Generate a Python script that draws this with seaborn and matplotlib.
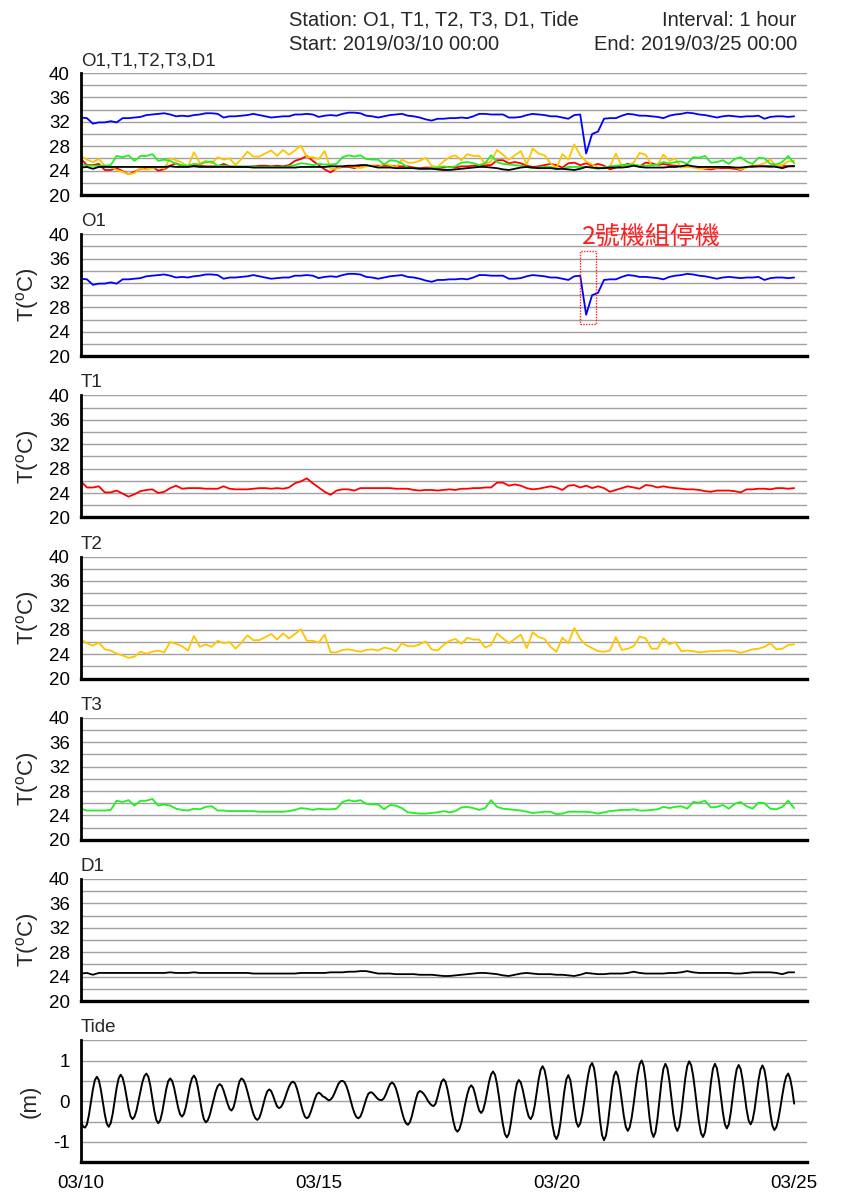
import numpy as np
import pandas as pd
import matplotlib
matplotlib.use("Agg")
import matplotlib.pyplot as plt
import seaborn as sns
from matplotlib.ticker import MultipleLocator, FixedLocator, NullFormatter, FixedFormatter
from matplotlib.patches import Rectangle

# ---------------- data (3-hourly temperatures, hourly tide) ----------------
o1 = [32.7, 32.6, 31.7, 31.9, 31.9, 32.1, 31.9, 32.6, 32.6, 32.7,
      32.8, 33.1, 33.2, 33.3, 33.4, 33.2, 32.9, 33.0, 32.9, 33.1,
      33.2, 33.4, 33.4, 33.3, 32.7, 32.9, 32.9, 33.0, 33.1, 33.3,
      33.1, 32.9, 32.7, 32.8, 32.9, 32.9, 33.2, 33.2, 33.3, 33.2,
      32.8, 33.0, 33.1, 33.0, 33.3, 33.5, 33.5, 33.4, 33.0, 32.9,
      32.7, 32.9, 33.1, 33.2, 33.3, 33.0, 32.9, 32.7, 32.4, 32.2,
      32.5, 32.5, 32.6, 32.6, 32.7, 32.6, 32.9, 33.3, 33.3, 33.2,
      33.2, 33.2, 32.7, 32.7, 32.8, 33.1, 33.3, 33.2, 33.1, 32.9,
      32.9, 32.7, 32.5, 33.1, 33.2, 26.8, 30.0, 30.4, 32.5, 32.6,
      32.6, 33.0, 33.3, 33.2, 33.0, 33.0, 32.9, 32.8, 32.6, 33.0,
      33.2, 33.3, 33.5, 33.4, 33.2, 33.1, 32.9, 32.7, 32.9, 33.0,
      32.9, 32.8, 32.9, 32.9, 33.0, 32.5, 32.8, 32.9, 32.9, 32.8,
      32.9]

t1 = [25.9, 24.9, 24.9, 25.1, 24.1, 24.1, 24.4, 23.9, 23.4, 23.8,
      24.3, 24.5, 24.6, 24.0, 24.2, 24.8, 25.2, 24.7, 24.8, 24.8,
      24.8, 24.7, 24.7, 24.7, 25.1, 24.7, 24.6, 24.6, 24.6, 24.7,
      24.8, 24.8, 24.7, 24.8, 24.7, 24.9, 25.6, 25.9, 26.4, 25.6,
      24.9, 24.2, 23.7, 24.4, 24.6, 24.6, 24.4, 24.8, 24.8, 24.8,
      24.8, 24.8, 24.8, 24.7, 24.7, 24.7, 24.5, 24.4, 24.5, 24.5,
      24.4, 24.5, 24.6, 24.5, 24.7, 24.7, 24.8, 24.8, 24.9, 24.9,
      25.7, 25.7, 25.2, 25.4, 25.2, 24.8, 24.6, 24.7, 24.9, 25.1,
      24.9, 24.5, 25.2, 25.3, 24.9, 25.2, 24.8, 25.1, 24.8, 24.2,
      24.5, 24.8, 25.1, 24.9, 24.7, 25.3, 25.2, 24.9, 25.1, 24.9,
      24.8, 24.7, 24.6, 24.6, 24.5, 24.3, 24.2, 24.4, 24.4, 24.4,
      24.3, 24.1, 24.6, 24.6, 24.7, 24.7, 24.6, 24.8, 24.8, 24.7,
      24.8]

t2 = [26.4, 25.8, 25.4, 25.9, 24.8, 24.6, 24.1, 23.8, 23.4, 23.6,
      24.4, 24.1, 24.4, 24.6, 24.3, 26.0, 25.7, 25.3, 24.6, 27.0,
      25.2, 25.6, 25.2, 26.2, 25.8, 26.0, 24.9, 25.9, 27.1, 26.3,
      26.3, 26.8, 27.3, 26.4, 27.4, 26.6, 27.3, 28.1, 26.2, 26.2,
      25.9, 27.2, 24.3, 24.3, 24.7, 24.8, 24.6, 24.4, 24.7, 24.8,
      24.6, 25.1, 24.9, 24.5, 25.8, 25.3, 25.3, 25.6, 26.1, 24.8,
      24.6, 25.5, 26.2, 26.5, 25.7, 26.7, 26.4, 26.4, 25.1, 25.5,
      27.4, 26.6, 25.8, 26.5, 27.2, 25.0, 27.6, 26.8, 26.5, 25.2,
      24.4, 26.7, 25.8, 28.3, 26.5, 25.5, 25.0, 24.5, 24.4, 24.6,
      26.8, 24.7, 24.9, 25.3, 26.9, 26.6, 24.9, 24.9, 26.6, 25.6,
      26.0, 24.5, 24.6, 24.5, 24.3, 24.4, 24.5, 24.5, 24.6, 24.6,
      24.5, 24.2, 24.5, 24.8, 24.9, 25.2, 25.8, 24.8, 24.9, 25.5,
      25.6]

t3 = [25.1, 24.8, 24.8, 24.8, 24.8, 24.9, 26.4, 26.2, 26.5, 25.6,
      26.4, 26.4, 26.7, 25.6, 25.8, 25.6, 25.1, 24.9, 24.8, 25.1,
      25.0, 25.4, 25.5, 24.8, 24.8, 24.7, 24.7, 24.7, 24.7, 24.7,
      24.6, 24.6, 24.6, 24.6, 24.6, 24.7, 24.9, 25.2, 25.1, 24.9,
      25.1, 25.0, 25.0, 25.1, 26.2, 26.5, 26.3, 26.5, 25.9, 25.8,
      25.8, 25.0, 25.7, 25.6, 25.2, 24.5, 24.4, 24.3, 24.3, 24.4,
      24.5, 24.7, 24.5, 24.7, 25.3, 25.4, 25.2, 24.9, 25.2, 26.5,
      25.4, 25.1, 25.0, 24.9, 24.8, 24.6, 24.4, 24.5, 24.6, 24.6,
      24.2, 24.3, 24.6, 24.6, 24.6, 24.6, 24.5, 24.3, 24.5, 24.7,
      24.8, 24.9, 24.9, 25.0, 24.8, 24.8, 24.9, 25.0, 25.4, 25.2,
      25.4, 25.5, 25.1, 26.2, 26.1, 26.4, 25.3, 25.4, 25.7, 25.1,
      25.9, 26.2, 25.5, 25.1, 26.1, 26.0, 25.1, 25.0, 25.4, 26.4,
      25.2]

d1 = [24.5, 24.6, 24.3, 24.6, 24.6, 24.6, 24.6, 24.6, 24.6, 24.6,
      24.6, 24.6, 24.6, 24.6, 24.6, 24.7, 24.6, 24.6, 24.6, 24.7,
      24.6, 24.6, 24.6, 24.6, 24.6, 24.6, 24.6, 24.6, 24.6, 24.5,
      24.5, 24.5, 24.5, 24.5, 24.5, 24.5, 24.5, 24.6, 24.6, 24.6,
      24.6, 24.6, 24.7, 24.7, 24.7, 24.8, 24.8, 24.9, 24.9, 24.7,
      24.5, 24.5, 24.5, 24.4, 24.4, 24.4, 24.4, 24.3, 24.3, 24.3,
      24.2, 24.1, 24.1, 24.2, 24.3, 24.4, 24.5, 24.6, 24.6, 24.5,
      24.4, 24.2, 24.1, 24.3, 24.5, 24.6, 24.5, 24.4, 24.4, 24.4,
      24.3, 24.3, 24.2, 24.1, 24.3, 24.6, 24.5, 24.4, 24.4, 24.5,
      24.5, 24.5, 24.6, 24.8, 24.6, 24.5, 24.5, 24.5, 24.5, 24.6,
      24.6, 24.7, 24.9, 24.7, 24.6, 24.6, 24.6, 24.6, 24.6, 24.6,
      24.5, 24.5, 24.6, 24.7, 24.7, 24.7, 24.7, 24.6, 24.4, 24.7,
      24.7]

tide = [-0.50, -0.62, -0.65, -0.57, -0.34, -0.03, 0.29, 0.52, 0.60, 0.52, 0.29, -0.02,
        -0.32, -0.55, -0.63, -0.54, -0.31, 0.01, 0.33, 0.56, 0.65, 0.58, 0.38, 0.11,
        -0.17, -0.37, -0.44, -0.38, -0.23, 0.00, 0.24, 0.47, 0.62, 0.68, 0.60, 0.38,
        0.07, -0.24, -0.46, -0.54, -0.47, -0.27, 0.01, 0.29, 0.49, 0.56, 0.50, 0.33,
        0.09, -0.15, -0.32, -0.38, -0.31, -0.13, 0.13, 0.38, 0.56, 0.63, 0.55, 0.34,
        0.06, -0.23, -0.44, -0.52, -0.47, -0.34, -0.15, 0.05, 0.24, 0.37, 0.42, 0.38,
        0.26, 0.10, -0.06, -0.19, -0.23, -0.15, 0.04, 0.29, 0.49, 0.56, 0.52, 0.41,
        0.24, 0.05, -0.14, -0.31, -0.42, -0.46, -0.41, -0.27, -0.09, 0.10, 0.24, 0.29,
        0.25, 0.13, -0.01, -0.13, -0.17, -0.14, -0.05, 0.08, 0.23, 0.36, 0.45, 0.48,
        0.44, 0.31, 0.13, -0.07, -0.25, -0.38, -0.42, -0.38, -0.26, -0.11, 0.05, 0.17,
        0.21, 0.18, 0.12, 0.10, 0.06, 0.02, 0.04, 0.10, 0.20, 0.32, 0.43, 0.49,
        0.50, 0.47, 0.37, 0.22, 0.04, -0.14, -0.29, -0.39, -0.42, -0.38, -0.26, -0.10,
        0.06, 0.18, 0.22, 0.21, 0.16, 0.10, 0.05, 0.03, 0.03, 0.08, 0.18, 0.31,
        0.42, 0.46, 0.42, 0.31, 0.14, -0.06, -0.26, -0.43, -0.54, -0.58, -0.52, -0.37,
        -0.17, 0.04, 0.20, 0.25, 0.23, 0.18, 0.11, 0.02, -0.05, -0.10, -0.12, -0.06,
        0.11, 0.31, 0.48, 0.54, 0.48, 0.29, 0.04, -0.25, -0.50, -0.69, -0.75, -0.69,
        -0.53, -0.30, -0.05, 0.17, 0.33, 0.39, 0.33, 0.16, -0.06, -0.23, -0.29, -0.22,
        -0.03, 0.22, 0.48, 0.66, 0.73, 0.65, 0.42, 0.10, -0.26, -0.58, -0.81, -0.89,
        -0.80, -0.54, -0.19, 0.17, 0.43, 0.52, 0.46, 0.28, 0.04, -0.20, -0.38, -0.44,
        -0.35, -0.12, 0.21, 0.53, 0.77, 0.86, 0.77, 0.52, 0.16, -0.23, -0.59, -0.84,
        -0.93, -0.82, -0.54, -0.15, 0.25, 0.54, 0.64, 0.52, 0.20, -0.19, -0.51, -0.63,
        -0.55, -0.33, -0.02, 0.33, 0.64, 0.86, 0.94, 0.81, 0.47, -0.01, -0.48, -0.83,
        -0.96, -0.85, -0.54, -0.12, 0.31, 0.62, 0.73, 0.63, 0.37, 0.00, -0.36, -0.63,
        -0.73, -0.64, -0.40, -0.06, 0.33, 0.67, 0.91, 1.00, 0.87, 0.53, 0.06, -0.41,
        -0.75, -0.88, -0.76, -0.43, 0.02, 0.47, 0.80, 0.92, 0.81, 0.51, 0.10, -0.32,
        -0.62, -0.73, -0.62, -0.30, 0.13, 0.55, 0.86, 0.98, 0.89, 0.63, 0.25, -0.16,
        -0.53, -0.79, -0.88, -0.76, -0.43, 0.02, 0.47, 0.80, 0.92, 0.81, 0.52, 0.13,
        -0.27, -0.56, -0.67, -0.57, -0.28, 0.11, 0.50, 0.79, 0.89, 0.79, 0.52, 0.16,
        -0.21, -0.47, -0.57, -0.47, -0.21, 0.16, 0.52, 0.78, 0.88, 0.77, 0.48, 0.09,
        -0.31, -0.60, -0.71, -0.64, -0.45, -0.17, 0.14, 0.42, 0.61, 0.68, 0.55, 0.30,
        -0.06]

x_tick_labels = ["03/10", "03/15", "03/20", "03/25"]
temp_names = ["O1", "T1", "T2", "T3", "D1"]
temp_series = [o1, t1, t2, t3, d1]
colors = {"O1": "#0000FF", "T1": "#FF0000", "T2": "#FFC400", "T3": "#22EE22", "D1": "#000000"}
annotation = "2號機組停機"
header_left = ["Station: O1, T1, T2, T3, D1, Tide", "Start: 2019/03/10 00:00"]
header_right = ["Interval: 1 hour", "End: 2019/03/25 00:00"]

# ---------------- style ----------------
sns.set_style("white")
plt.rcParams["font.family"] = ["Liberation Sans", "Noto Sans CJK TC", "DejaVu Sans"]
plt.rcParams["mathtext.fontset"] = "custom"
plt.rcParams["mathtext.rm"] = "Liberation Sans"

W, H = 848, 1200
fig = plt.figure(figsize=(W / 100, H / 100), dpi=100)

AX_L, AX_R = 81, 807
AX_H = 122
XMAX = 15.27
GRID_C = "#A0A0A0"
TICK_FS = 13.5
TITLE_FS = 13.5
YLAB_FS = 16
HEAD_FS = 14.5
YLAB_X = 41  # pixel position (from figure left) of the y-label's right edge


def make_ax(k):
    top = 73 + 161.2 * k
    ax = fig.add_axes([AX_L / W, 1 - (top + AX_H) / H, (AX_R - AX_L) / W, AX_H / H])
    ax.set_xlim(0, XMAX)
    for s in ["top", "right"]:
        ax.spines[s].set_visible(False)
    ax.spines["left"].set_linewidth(2.0)
    ax.spines["bottom"].set_linewidth(2.4)
    ax.spines["left"].set_color("black")
    ax.spines["bottom"].set_color("black")
    ax.xaxis.set_major_locator(FixedLocator([0, 5, 10, 15]))
    ax.xaxis.set_minor_locator(FixedLocator(list(range(16))))
    ax.tick_params(axis="x", which="major", direction="out", length=7, width=1.2,
                   colors="black", labelsize=TICK_FS, pad=2)
    ax.tick_params(axis="x", which="minor", direction="out", length=4, width=1.0, colors="black")
    ax.tick_params(axis="y", which="major", direction="out", length=6, width=1.2,
                   colors="black", labelsize=TICK_FS, pad=2)
    ax.tick_params(axis="y", which="minor", direction="in", length=3, width=1.0, colors="black")
    ax.set_xlabel("")
    return ax


def temp_axis(ax, title, ylabel=True):
    ax.set_ylim(20, 40)
    ax.yaxis.set_major_locator(MultipleLocator(4))
    ax.yaxis.set_minor_locator(MultipleLocator(1))
    for g in np.arange(22, 41, 2):
        ax.axhline(g, color=GRID_C, lw=1.0, zorder=0)
    ax.text(0.0, 1.0 + 4 / AX_H, title, transform=ax.transAxes, ha="left", va="bottom",
            fontsize=TITLE_FS)
    if ylabel:
        ax.set_ylabel("T($^{\\mathrm{o}}$C)", fontsize=YLAB_FS, labelpad=0)
        ax.yaxis.set_label_coords(-(AX_L - YLAB_X) / (AX_R - AX_L), 0.5)
    else:
        ax.set_ylabel("")


def draw(ax, vals, color, lw=1.3):
    days = np.linspace(0, 15, len(vals))
    df = pd.DataFrame({"day": days, "v": vals})
    sns.lineplot(data=df, x="day", y="v", ax=ax, color=color, linewidth=lw,
                 estimator=None, sort=False, legend=False)
    ax.set_xlabel("")


axes = [make_ax(k) for k in range(7)]

# panel 1: all temperature series
ax = axes[0]
for name, vals in zip(temp_names, temp_series):
    draw(ax, vals, colors[name])
temp_axis(ax, ",".join(temp_names), ylabel=False)

# individual panels
for k, (name, vals) in enumerate(zip(temp_names, temp_series), start=1):
    ax = axes[k]
    draw(ax, vals, colors[name])
    temp_axis(ax, name)

# annotation on O1 panel
ax = axes[1]
ax.add_patch(Rectangle((10.49, 25.25), 0.34, 11.95, fill=False, edgecolor="#FF2020",
                       linestyle=(0, (1, 1)), linewidth=1.0, zorder=5, clip_on=False))
ax.text(10.53, 39.6, annotation, color="#FF2020", fontsize=18, ha="left", va="center",
        family=["Noto Sans CJK TC", "DejaVu Sans"], clip_on=False)

# tide panel
ax = axes[6]
draw(ax, tide, "black", lw=1.4)
ax.set_ylim(-1.5, 1.5)
ax.yaxis.set_major_locator(FixedLocator([-1, 0, 1]))
ax.yaxis.set_major_formatter(FixedFormatter(["-1", "0", "1"]))
ax.yaxis.set_minor_locator(MultipleLocator(0.5))
for g in [-1.0, -0.5, 0.0, 0.5, 1.0, 1.5]:
    ax.axhline(g, color=GRID_C, lw=1.0, zorder=0)
ax.text(0.0, 1.0 + 4 / AX_H, "Tide", transform=ax.transAxes, ha="left", va="bottom",
        fontsize=TITLE_FS)
ax.set_ylabel("(m)", fontsize=YLAB_FS, labelpad=0)
ax.yaxis.set_label_coords(-(AX_L - YLAB_X) / (AX_R - AX_L), 0.5)

for k, ax in enumerate(axes):
    if k < 6:
        ax.xaxis.set_major_formatter(NullFormatter())
    else:
        ax.xaxis.set_major_formatter(FixedFormatter(x_tick_labels))
    ax.xaxis.set_minor_formatter(NullFormatter())

# header
fig.text(289 / W, 1 - 20 / H, header_left[0], fontsize=HEAD_FS, ha="left", va="center")
fig.text(289 / W, 1 - 44 / H, header_left[1], fontsize=HEAD_FS, ha="left", va="center")
fig.text(797 / W, 1 - 20 / H, header_right[0], fontsize=HEAD_FS, ha="right", va="center")
fig.text(797 / W, 1 - 44 / H, header_right[1], fontsize=HEAD_FS, ha="right", va="center")

fig.savefig("out.png", dpi=100, facecolor="white")
